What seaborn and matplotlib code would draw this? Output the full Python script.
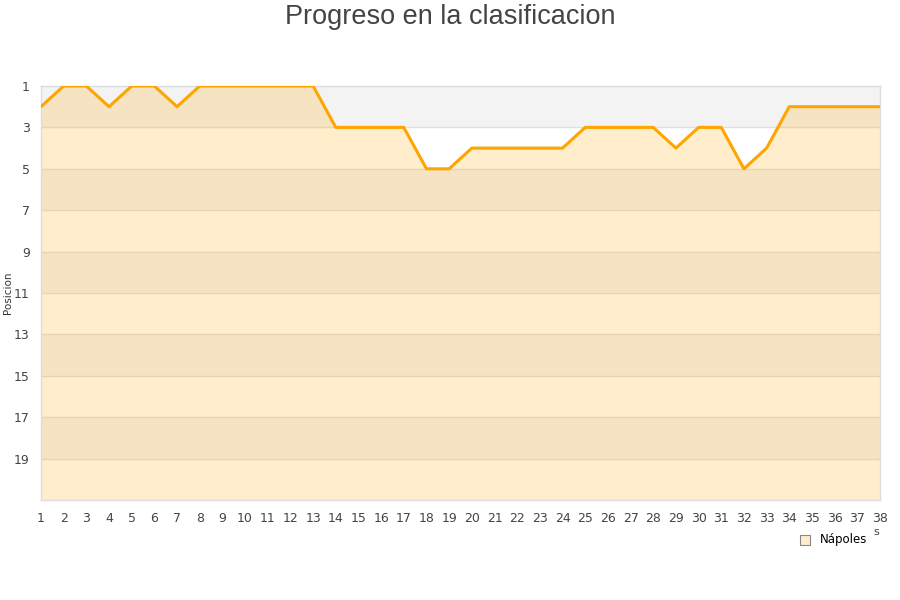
import pandas as pd
import seaborn as sns
import matplotlib.pyplot as plt

# datos de la clasificacion por jornada
jornadas = list(range(1, 39))
posiciones = [2, 1, 1, 2, 1, 1, 2, 1, 1, 1, 1, 1, 1, 3, 3, 3, 3, 5, 5, 4,
              4, 4, 4, 4, 3, 3, 3, 3, 4, 3, 3, 5, 4, 2, 2, 2, 2, 2]
equipo = 'Nápoles'
y_ticks = [1, 3, 5, 7, 9, 11, 13, 15, 17, 19]

df = pd.DataFrame({'Jornada': jornadas, 'Posicion': posiciones})

sns.set_style('white')
plt.rcParams['font.family'] = ['DejaVu Sans']

fig = plt.figure(figsize=(9, 6), dpi=100)
ax = fig.add_axes([41 / 900, 1 - 500 / 600, 839 / 900, 414 / 600])

# bandas alternas
for i, t in enumerate(y_ticks):
    ax.axhspan(t, t + 2, color='#f3f3f3' if i % 2 == 0 else 'white', zorder=0, lw=0)
for t in y_ticks[1:]:
    ax.axhline(t, color='#e0e0e0', lw=1, zorder=1)

ax.fill_between(df['Jornada'], df['Posicion'], 21, color='#ffa500', alpha=0.2, lw=0, zorder=2)
sns.lineplot(data=df, x='Jornada', y='Posicion', color='#ffa500', lw=2.2, ax=ax, zorder=3)

ax.set_xlim(1, 38)
ax.set_ylim(21, 1)
ax.set_xticks(jornadas)
ax.set_yticks(y_ticks)
ax.tick_params(axis='both', colors='#444444', labelsize=9, length=0)
ax.tick_params(axis='x', pad=9)
ax.tick_params(axis='y', pad=8)
for s in ax.spines.values():
    s.set_color('#dddddd')
    s.set_linewidth(1)
ax.set_xlabel('')
ax.set_ylabel('Posicion', fontsize=7.5, color='#333333')
ax.yaxis.set_label_coords(-28 / 839, 0.5)

fig.suptitle('Progreso en la clasificacion', fontsize=19.5, color='#444444',
             fontfamily='Liberation Sans', y=0.993)

fig.text(876 / 900, 1 - 532 / 600, 's', fontsize=8, color='#444444', ha='center', va='center')
fig.lines.append(plt.Line2D([805 / 900], [1 - 540 / 600], marker='s', markersize=7,
                            markerfacecolor='#ffedcc', markeredgecolor='#888888',
                            markeredgewidth=0.8, transform=fig.transFigure))
fig.text(820 / 900, 1 - 539 / 600, equipo, fontsize=8.5, color='black', ha='left', va='center')

fig.savefig('out.png', dpi=100)
